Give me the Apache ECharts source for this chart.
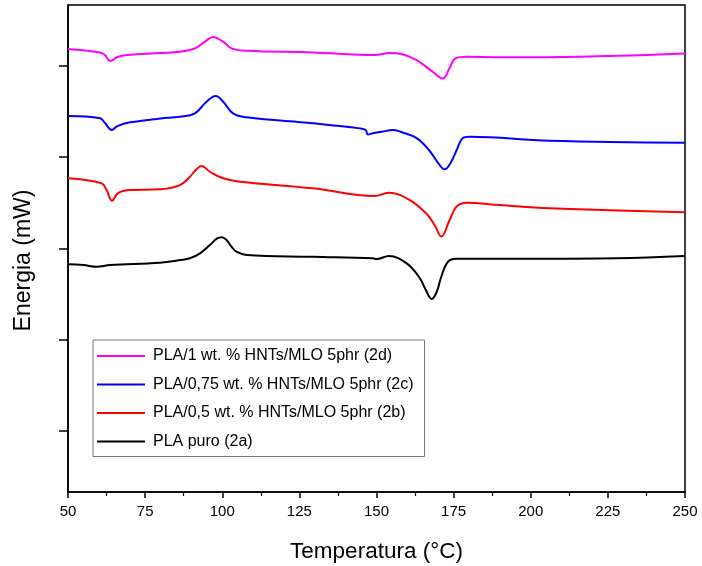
<!DOCTYPE html>
<html><head><meta charset="utf-8">
<script src="https://cdn.jsdelivr.net/npm/echarts@6/dist/echarts.min.js"></script>
<style>html,body{margin:0;padding:0;background:#fff}#c{width:702px;height:566px}</style>
</head><body><div id="c"></div>
<script>
// Temperature (°C) and heat-flow (arbitrary mW offsets)
const T_2d = [50,60.4,62.0,63.6,64.5,66,69.1,80,86.3,91.1,94.4,97.0,100.3,103.0,107.9,129.4,149.4,154.3,158,163.0,168.2,171.5,173.7,175.6,179.2,189.9,200.6,227.8,250];
const E_2d = [4.851,4.814,4.785,4.719,4.730,4.763,4.785,4.807,4.821,4.858,4.931,4.982,4.931,4.858,4.832,4.814,4.785,4.807,4.796,4.730,4.602,4.528,4.643,4.749,4.766,4.760,4.760,4.777,4.803];

const T_2c = [50,60.4,62.0,64.2,66,70.1,80,86.3,91.1,94.9,97.9,100.3,103.5,107.9,129.4,144.6,146.5,147.2,148.8,152,155.3,158,163.0,167,170,172.1,174,176.0,177.9,180.2,206.1,250];
const E_2c = [4.117,4.092,4.040,3.964,4.007,4.048,4.090,4.109,4.146,4.274,4.336,4.274,4.146,4.103,4.037,3.982,3.964,3.915,3.928,3.947,3.964,3.942,3.876,3.745,3.602,3.533,3.602,3.745,3.873,3.890,3.847,3.825];

const T_2b = [50,60.9,62.5,64.3,66.2,70.1,79.8,86.3,89.5,91.7,93.3,96.0,100.3,105.7,129.4,149.4,154.0,160.8,166.3,169,171.0,173.7,175.9,179.2,189.9,206.1,250];
const E_2b = [3.435,3.380,3.307,3.189,3.274,3.307,3.314,3.361,3.452,3.537,3.569,3.507,3.435,3.398,3.325,3.241,3.277,3.197,3.044,2.912,2.797,2.978,3.124,3.168,3.142,3.106,3.063];

const T_2a = [50,55,59.3,63.6,79.8,86.3,89.5,92.8,96.0,98.2,99.8,101.4,103.0,104.6,107.9,129.4,148.8,150.1,154.0,159.8,164.0,166,167.9,169.5,171.0,173.2,175.9,189.9,200.6,227.8,250];
const E_2a = [2.494,2.485,2.467,2.485,2.511,2.540,2.559,2.614,2.704,2.774,2.789,2.759,2.686,2.631,2.595,2.576,2.559,2.551,2.584,2.504,2.343,2.212,2.113,2.190,2.357,2.522,2.554,2.554,2.554,2.559,2.584];

const NAMES = ['PLA/1 wt. % HNTs/MLO 5phr (2d)','PLA/0,75 wt. % HNTs/MLO 5phr (2c)','PLA/0,5 wt. % HNTs/MLO 5phr (2b)','PLA puro (2a)'];
const COLORS = ['#ff00ff','#0000ff','#ff0000','#000000'];
const X_MIN = 50, X_MAX = 250, X_STEP = 25;
const Y_MIN = 0, Y_MAX = 5.333;
const Y_TICKS = [0.667,1.667,2.667,3.667,4.667];

const zip = (xs, ys) => xs.map((x, i) => [x, ys[i]]);
const SERIES = [zip(T_2d,E_2d), zip(T_2c,E_2c), zip(T_2b,E_2b), zip(T_2a,E_2a)];

const FONT = "'Liberation Sans', Arial, sans-serif";
const chart = echarts.init(document.getElementById('c'), null, {renderer:'canvas'});
chart.setOption({
  animation: false,
  backgroundColor: '#fff',
  grid: {left: 68, right: 17, top: 5, bottom: 74, outerBoundsMode: 'none', containLabel: false, show: true, borderColor: '#000', borderWidth: 1.5, backgroundColor: 'transparent'},
  xAxis: {
    type: 'value', min: X_MIN, max: X_MAX, interval: X_STEP,
    name: 'Temperatura (°C)', nameLocation: 'middle', nameGap: 48,
    nameTextStyle: {fontFamily: FONT, fontSize: 22.5, color: '#000'},
    axisLine: {show: true, lineStyle: {color: '#000', width: 1.5}},
    axisTick: {show: true, inside: false, length: 6, lineStyle: {color: '#000', width: 1.5}},
    minorTick: {show: true, splitNumber: 2, length: 4, lineStyle: {color: '#000', width: 1.2}},
    axisLabel: {fontFamily: FONT, fontSize: 15, color: '#000', margin: 12},
    splitLine: {show: false}
  },
  yAxis: {
    type: 'value', min: Y_MIN, max: Y_MAX,
    name: 'Energia (mW)', nameLocation: 'middle', nameGap: 33,
    nameTextStyle: {fontFamily: FONT, fontSize: 23, color: '#000', padding: [0,24,0,0]},
    axisLine: {show: true, lineStyle: {color: '#000', width: 1.5}},
    axisTick: {show: true, inside: false, length: 9, customValues: Y_TICKS, lineStyle: {color: '#000', width: 1.5}},
    axisLabel: {show: false},
    splitLine: {show: false}
  },
  legend: {
    show: true, orient: 'vertical', left: 93, top: 340,
    data: NAMES,
    icon: 'rect', itemWidth: 48, itemHeight: 2, itemGap: 12.5,
    padding: [8, 11, 7, 4],
    borderColor: '#777', borderWidth: 1, backgroundColor: '#fff',
    textStyle: {fontFamily: FONT, fontSize: 16, color: '#000', padding: [0,0,0,3]}
  },
  series: SERIES.map((d, i) => ({
    name: NAMES[i], type: 'line', data: d, showSymbol: false, symbol: 'none',
    smooth: 0.4,
    lineStyle: {color: COLORS[i], width: 2}, itemStyle: {color: COLORS[i]}, z: 2
  }))
});
</script></body></html>
